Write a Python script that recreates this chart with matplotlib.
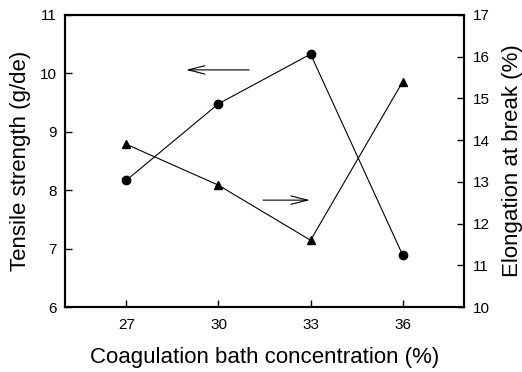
import matplotlib
matplotlib.use("Agg")
import matplotlib.pyplot as plt

plt.rcParams['font.family'] = ['Liberation Sans', 'DejaVu Sans']

# coagulation bath concentration (%)
conc = [27, 30, 33, 36]
# tensile strength (g/de), left axis
tensile = [8.17, 9.48, 10.33, 6.89]
# elongation at break (%), right axis
elongation = [13.9, 12.92, 11.6, 15.4]

fig = plt.figure(figsize=(5.22, 3.72), dpi=100)
ax = fig.add_axes([0.1245, 0.1747, 0.7645, 0.785])
ax2 = ax.twinx()

ax.plot(conc, tensile, color='black', lw=0.8, marker='o', ms=6, zorder=3)
ax2.plot(conc, elongation, color='black', lw=0.8, marker='^', ms=6, zorder=3)

ax.set_xlim(25, 38)
ax.set_ylim(6, 11)
ax2.set_ylim(10, 17)
ax.set_xticks(conc)
ax.set_yticks(range(6, 12))
ax2.set_yticks(range(10, 18))

for a in (ax, ax2):
    for s in a.spines.values():
        s.set_linewidth(1.5)
    a.tick_params(direction='in', length=5, width=1, labelsize=11)
ax.tick_params(axis='x', pad=8)
ax.tick_params(axis='y', pad=6)
ax2.tick_params(axis='y', pad=6)

ax.set_xlabel('Coagulation bath concentration (%)', fontsize=16, labelpad=11)
ax.set_ylabel('Tensile strength (g/de)', fontsize=16, labelpad=6)
ax2.set_ylabel('Elongation at break (%)', fontsize=16, labelpad=9)

# arrows pointing to the axis each curve belongs to
arrow = dict(arrowstyle='->,head_length=1.2,head_width=0.3', color='black', lw=0.8,
             shrinkA=0, shrinkB=0)
ax.annotate('', xy=(28.94, 10.06), xytext=(31.0, 10.06), arrowprops=arrow)
ax.annotate('', xy=(32.98, 7.83), xytext=(31.45, 7.83), arrowprops=arrow)

fig.savefig('out.png', dpi=100)
